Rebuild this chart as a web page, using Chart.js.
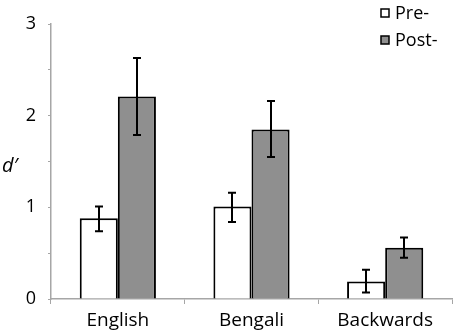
<!DOCTYPE html>
<html>
<head>
<meta charset="utf-8">
<script src="https://cdn.jsdelivr.net/npm/chart.js@4"></script>
<style>
  html, body { margin: 0; padding: 0; background: #fff; }
  #wrap { width: 454px; height: 335px; position: relative; }
</style>
</head>
<body>
<div id="wrap"><canvas id="c" width="454" height="335"></canvas></div>
<script>
// data
const categories = ['English', 'Bengali', 'Backwards']
const preValues = [0.88, 1.01, 0.19]
const preLow = [0.74, 0.84, 0.07]
const preHigh = [1.01, 1.16, 0.32]
const postValues = [2.21, 1.85, 0.56]
const postLow = [1.79, 1.55, 0.45]
const postHigh = [2.63, 2.16, 0.67]
const seriesNames = ['Pre-', 'Post-']

const FONT = '"Open Sans", "DejaVu Sans", sans-serif'
const axisGray = '#a6a6a6'
const postGray = '#8f8f8f'

// error bars on top of every bar
const errorBars = {
  id: 'errorBars',
  afterDatasetsDraw(chart) {
    const ctx = chart.ctx
    const y = chart.scales.y
    const ranges = [[preLow, preHigh], [postLow, postHigh]]
    ctx.save()
    ctx.strokeStyle = '#000'
    ctx.lineWidth = 2
    ranges.forEach((r, di) => {
      chart.getDatasetMeta(di).data.forEach((bar, i) => {
        const x = Math.round(bar.x)
        const y1 = y.getPixelForValue(r[0][i])
        const y2 = y.getPixelForValue(r[1][i])
        ctx.beginPath()
        ctx.moveTo(x, y1); ctx.lineTo(x, y2)
        ctx.moveTo(x - 4, y1); ctx.lineTo(x + 4, y1)
        ctx.moveTo(x - 4, y2); ctx.lineTo(x + 4, y2)
        ctx.stroke()
      })
    })
    ctx.restore()
  }
}

// legend and y title
const extras = {
  id: 'extras',
  afterDraw(chart) {
    const ctx = chart.ctx
    ctx.save()
    const fills = ['#ffffff', postGray]
    seriesNames.forEach((name, i) => {
      const cy = 13 + i * 27
      ctx.fillStyle = fills[i]
      ctx.fillRect(381, cy - 4, 8, 8)
      ctx.strokeStyle = '#000'
      ctx.lineWidth = 1.5
      ctx.strokeRect(381, cy - 4, 8, 8)
      ctx.fillStyle = '#000'
      ctx.font = '18px ' + FONT
      ctx.textBaseline = 'middle'
      ctx.textAlign = 'left'
      ctx.fillText(name, 395, cy + 1)
    })
    ctx.font = 'italic 20px ' + FONT
    ctx.textAlign = 'left'
    ctx.textBaseline = 'middle'
    ctx.fillText('d\u2032', 2, 166)
    ctx.restore()
  }
}

new Chart(document.getElementById('c'), {
  type: 'bar',
  data: {
    labels: categories,
    datasets: [
      {
        label: seriesNames[0], data: preValues,
        backgroundColor: '#ffffff', borderColor: '#000', borderWidth: 2,
        borderSkipped: 'start', barPercentage: 1, categoryPercentage: 0.57
      },
      {
        label: seriesNames[1], data: postValues,
        backgroundColor: postGray, borderColor: '#000', borderWidth: 2,
        borderSkipped: 'start', barPercentage: 1, categoryPercentage: 0.57
      }
    ]
  },
  options: {
    responsive: false,
    animation: false,
    events: [],
    layout: { padding: { top: 24, right: 2, left: 0, bottom: 0 } },
    plugins: { legend: { display: false }, tooltip: { enabled: false } },
    scales: {
      x: {
        afterFit(s) { s.height = 36 },
        border: { color: axisGray, width: 1.5 },
        grid: { drawOnChartArea: false, color: axisGray, tickLength: 5, offset: true },
        ticks: { color: '#000', font: { family: FONT, size: 19 }, padding: 5 }
      },
      y: {
        min: 0, max: 3,
        afterFit(s) { s.width = 51 },
        border: { color: axisGray, width: 1.5 },
        grid: { drawOnChartArea: false, color: axisGray, tickLength: 3 },
        ticks: {
          stepSize: 0.5,
          color: '#000',
          font: { family: FONT, size: 18 },
          padding: 12,
          callback: v => (Number.isInteger(v) ? String(v) : '')
        }
      }
    }
  },
  plugins: [errorBars, extras]
})
</script>
</body>
</html>
